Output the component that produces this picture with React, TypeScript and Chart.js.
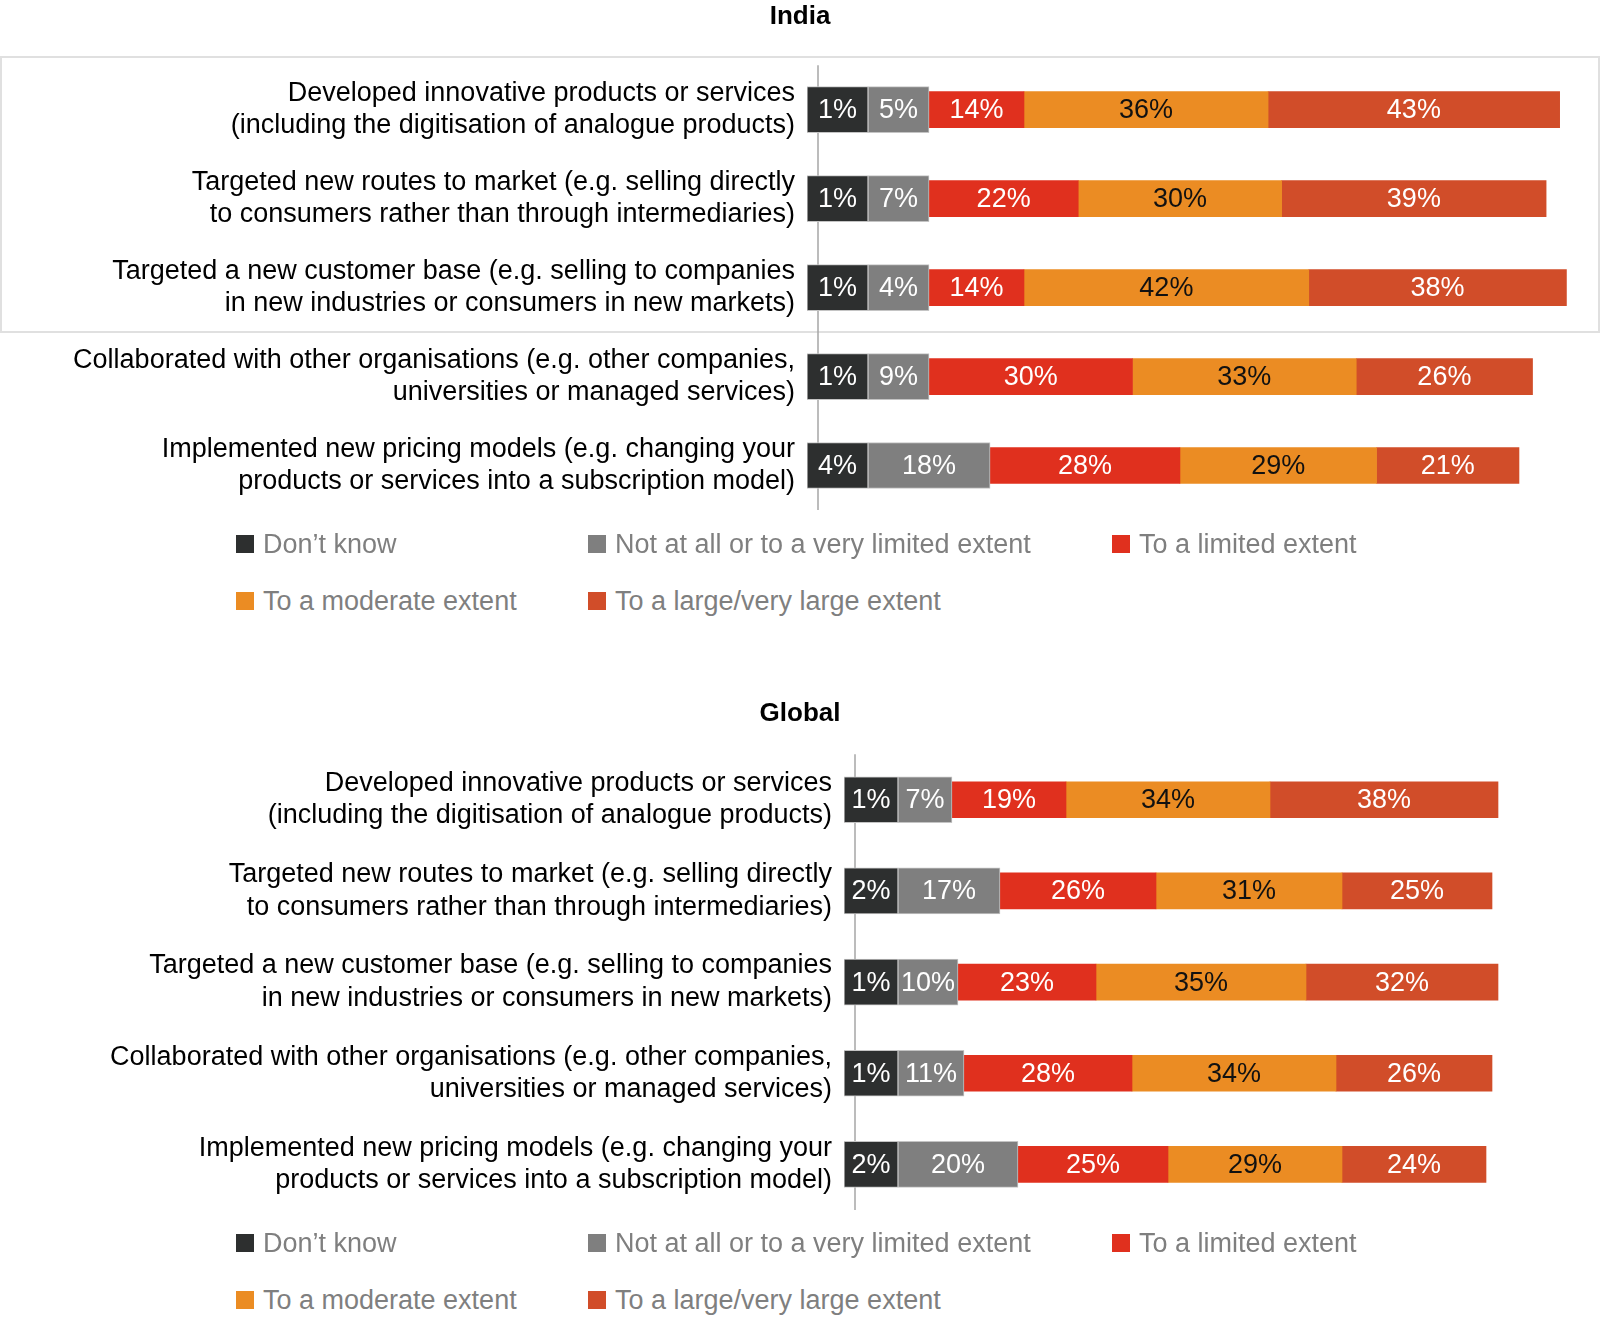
import React, { useEffect, useRef } from 'react';
import { Chart, registerables } from 'chart.js';

Chart.register(...registerables);

// ---------- Data ----------
const CATEGORIES: string[][] = [
  ['Developed innovative products or services', '(including the digitisation of analogue products)'],
  ['Targeted new routes to market (e.g. selling directly', 'to consumers rather than through intermediaries)'],
  ['Targeted a new customer base (e.g. selling to companies', 'in new industries or consumers in new markets)'],
  ['Collaborated with other organisations (e.g. other companies,', 'universities or managed services)'],
  ['Implemented new pricing models (e.g. changing your', 'products or services into a subscription model)'],
];

const SERIES_NAMES = [
  'Don\u2019t know',
  'Not at all or to a very limited extent',
  'To a limited extent',
  'To a moderate extent',
  'To a large/very large extent',
];

const INDIA_DONT_KNOW = [1, 1, 1, 1, 4];
const INDIA_NOT_AT_ALL = [5, 7, 4, 9, 18];
const INDIA_LIMITED = [14, 22, 14, 30, 28];
const INDIA_MODERATE = [36, 30, 42, 33, 29];
const INDIA_LARGE = [43, 39, 38, 26, 21];

const GLOBAL_DONT_KNOW = [1, 2, 1, 1, 2];
const GLOBAL_NOT_AT_ALL = [7, 17, 10, 11, 20];
const GLOBAL_LIMITED = [19, 26, 23, 28, 25];
const GLOBAL_MODERATE = [34, 31, 35, 34, 29];
const GLOBAL_LARGE = [38, 25, 32, 26, 24];

// ---------- Styles ----------
const SERIES_COLORS = ['#2d2f2f', '#7f7f7f', '#e0301e', '#eb8c23', '#d14d29'];
const LABEL_COLORS = ['#ffffff', '#ffffff', '#ffffff', '#111111', '#ffffff'];
const FONT = "'Liberation Sans', Arial, Helvetica, sans-serif";
// small segments are given a minimum drawn length so their labels fit (as in the source)
const MIN_SEGMENT = 9;
const AXIS_OFFSET = 11;

const valueLabelPlugin = {
  id: 'valueLabels',
  afterDatasetsDraw(chart: any) {
    const ctx = chart.ctx;
    ctx.save();
    ctx.font = `27px ${FONT}`;
    ctx.textAlign = 'center';
    ctx.textBaseline = 'middle';
    chart.data.datasets.forEach((ds: any, di: number) => {
      const meta = chart.getDatasetMeta(di);
      meta.data.forEach((el: any, i: number) => {
        const { x, y, base } = el.getProps(['x', 'y', 'base'], true);
        ctx.fillStyle = LABEL_COLORS[di];
        ctx.fillText(`${ds.values[i]}%`, (x + base) / 2, y + 1);
      });
    });
    ctx.restore();
  },
};

const axisLinePlugin = {
  id: 'axisLine',
  beforeDatasetsDraw(chart: any) {
    const { ctx, chartArea } = chart;
    ctx.save();
    ctx.strokeStyle = '#a6a6a6';
    ctx.lineWidth = 1.5;
    ctx.beginPath();
    const x = chartArea.left + AXIS_OFFSET;
    ctx.moveTo(x, chartArea.top);
    ctx.lineTo(x, chartArea.bottom);
    ctx.stroke();
    ctx.restore();
  },
};

type PanelProps = {
  title: string;
  series: number[][];
  top: number;
  height: number;
  barLeft: number;
  xMax: number;
  padSide: number;
  padBottom: number;
  titlePadTop: number;
  titlePadBottom: number;
};

function ChartPanel(p: PanelProps) {
  const ref = useRef<HTMLCanvasElement | null>(null);
  useEffect(() => {
    if (!ref.current) return;
    const chart = new Chart(ref.current, {
      type: 'bar',
      data: {
        labels: CATEGORIES,
        datasets: p.series.map((vals, si) => ({
          label: SERIES_NAMES[si],
          data: vals.map((v) => Math.max(v, MIN_SEGMENT)),
          values: vals,
          backgroundColor: SERIES_COLORS[si],
          borderColor: si < 2 ? '#c4c4c4' : SERIES_COLORS[si],
          borderWidth: si < 2 ? 1 : 0,
          borderSkipped: false,
          barThickness: si < 2 ? 46 : 36,
        })) as any,
      },
      options: {
        indexAxis: 'y',
        responsive: false,
        animation: false,
        devicePixelRatio: 1,
        layout: { padding: { left: p.padSide, right: p.padSide, top: 0, bottom: p.padBottom } },
        scales: {
          x: { stacked: true, display: false, min: 0, max: p.xMax },
          y: {
            stacked: true,
            grid: { display: false, drawTicks: false },
            border: { display: false },
            ticks: {
              padding: 12,
              color: '#000000',
              autoSkip: false,
              font: { family: FONT, size: 27, lineHeight: 1.2 },
            },
            afterFit: (s: any) => {
              s.width = p.barLeft - p.padSide;
            },
          },
        },
        plugins: {
          legend: { display: false },
          tooltip: { enabled: false },
          title: {
            display: true,
            text: p.title,
            color: '#000000',
            font: { family: FONT, size: 26, weight: 'bold', lineHeight: 1.2 },
            padding: { top: p.titlePadTop, bottom: p.titlePadBottom },
          },
        },
      } as any,
      plugins: [valueLabelPlugin, axisLinePlugin],
    });
    return () => chart.destroy();
  }, []);
  return (
    <canvas
      ref={ref}
      width={1600}
      height={p.height}
      style={{ position: 'absolute', left: 0, top: p.top, width: 1600, height: p.height }}
    />
  );
}

const LEGEND_COLS = [236, 588, 1112];

function Legend({ rowYs }: { rowYs: number[] }) {
  return (
    <>
      {SERIES_NAMES.map((name, i) => {
        const col = i < 3 ? i : i - 3;
        const row = i < 3 ? 0 : 1;
        const left = LEGEND_COLS[col];
        const cy = rowYs[row];
        return (
          <div key={name} style={{ position: 'absolute', left, top: cy - 16, height: 32 }}>
            <div
              style={{
                position: 'absolute',
                left: 0,
                top: 7,
                width: 18,
                height: 18,
                background: SERIES_COLORS[i],
              }}
            />
            <div
              style={{
                position: 'absolute',
                left: 27,
                top: 0,
                whiteSpace: 'nowrap',
                fontFamily: FONT,
                fontSize: 27,
                lineHeight: '32px',
                color: '#7f7f7f',
              }}
            >
              {name}
            </div>
          </div>
        );
      })}
    </>
  );
}

export default function App() {
  return (
    <div
      style={{
        position: 'absolute',
        left: 0,
        top: 0,
        width: 1600,
        height: 1333,
        background: '#ffffff',
        overflow: 'hidden',
      }}
    >
      <div
        style={{
          position: 'absolute',
          left: 0,
          top: 56,
          width: 1600,
          height: 277,
          border: '2px solid #e0e0e0',
          boxSizing: 'border-box',
        }}
      />
      <ChartPanel
        title="India"
        series={[INDIA_DONT_KNOW, INDIA_NOT_AT_ALL, INDIA_LIMITED, INDIA_MODERATE, INDIA_LARGE]}
        top={0}
        height={560}
        barLeft={807}
        xMax={114}
        padSide={20}
        padBottom={50}
        titlePadTop={1}
        titlePadBottom={33}
      />
      <Legend rowYs={[544, 601]} />
      <ChartPanel
        title="Global"
        series={[GLOBAL_DONT_KNOW, GLOBAL_NOT_AT_ALL, GLOBAL_LIMITED, GLOBAL_MODERATE, GLOBAL_LARGE]}
        top={680}
        height={580}
        barLeft={844}
        xMax={112}
        padSide={84}
        padBottom={50}
        titlePadTop={18}
        titlePadBottom={25}
      />
      <Legend rowYs={[1243, 1300]} />
    </div>
  );
}
